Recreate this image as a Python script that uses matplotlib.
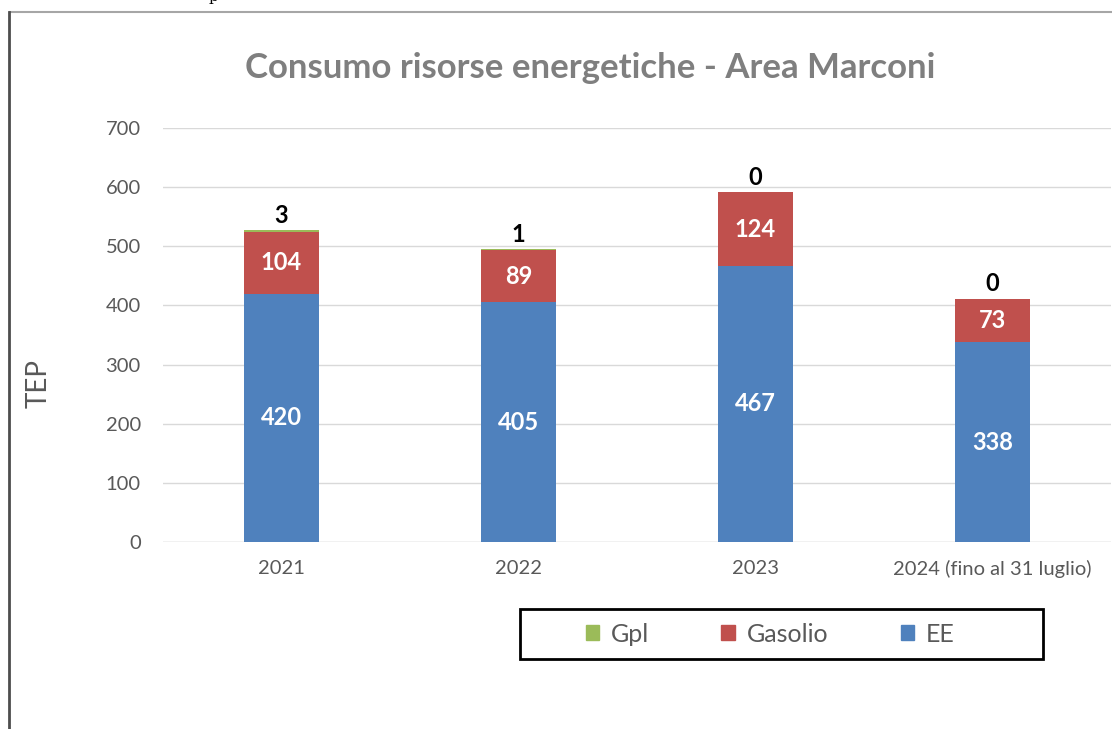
import matplotlib.pyplot as plt
from matplotlib.lines import Line2D
from matplotlib.patches import Patch, Rectangle
import numpy as np

# data
anni = ['2021', '2022', '2023', '2024 (fino al 31 luglio)']
ee = [420, 405, 467, 338]
gasolio = [104, 89, 124, 73]
gpl = [3, 1, 0, 0]

c_ee = '#4F81BD'
c_gas = '#C0504D'
c_gpl = '#9BBB59'
grigio = '#595959'

plt.rcParams['font.family'] = ['Lato', 'DejaVu Sans']

W, H = 1112, 729
fig = plt.figure(figsize=(W / 100, H / 100), dpi=100)
ax = fig.add_axes([163 / W, 1 - 542 / H, 948 / W, (542 - 128) / H])

x = np.arange(len(anni))
larg = 0.316
ee = np.array(ee)
gasolio = np.array(gasolio)
gpl = np.array(gpl)

ax.bar(x, ee, larg, color=c_ee, zorder=3)
ax.bar(x, gasolio, larg, bottom=ee, color=c_gas, zorder=3)
ax.bar(x, gpl, larg, bottom=ee + gasolio, color=c_gpl, zorder=3)

# etichette
for i in range(len(anni)):
    ax.text(x[i], ee[i] / 2, str(ee[i]), ha='center', va='center',
            color='white', fontsize=17, fontweight='bold', zorder=4)
    ax.text(x[i], ee[i] + gasolio[i] / 2, str(gasolio[i]), ha='center',
            va='center', color='white', fontsize=17, fontweight='bold', zorder=4)
    ax.text(x[i], ee[i] + gasolio[i] + gpl[i] + 6, str(gpl[i]), ha='center',
            va='bottom', color='black', fontsize=17, fontweight='bold', zorder=4)

ax.set_xlim(-0.5, 3.5)
ax.set_ylim(0, 700)
ax.set_yticks(range(0, 701, 100))
ax.set_xticks(x)
ax.set_xticklabels(anni)
ax.grid(axis='y', color='#D9D9D9', linewidth=1, zorder=0)
for s in ax.spines.values():
    s.set_visible(False)
ax.axhline(0, color='#D9D9D9', linewidth=1, zorder=1)
ax.tick_params(axis='both', length=0, labelsize=14.5, labelcolor=grigio)
ax.tick_params(axis='y', pad=16)
ax.tick_params(axis='x', pad=13)
ax.set_ylabel('TEP', fontsize=20, color=grigio)
ax.yaxis.set_label_coords((52 - 163) / 948, (542 - 383) / (542 - 128))

fig.text(590 / W, 1 - 68 / H, 'Consumo risorse energetiche - Area Marconi',
         ha='center', va='center', fontsize=25, fontweight='bold', color='#7F7F7F')

# legenda: cornice separata, voci senza frame
fig.add_artist(Rectangle((520 / W, 1 - 659 / H), 523 / W, 50 / H,
                         transform=fig.transFigure, facecolor='white',
                         edgecolor='black', linewidth=2))
handles = [Patch(color=c_gpl, label='Gpl'), Patch(color=c_gas, label='Gasolio'),
           Patch(color=c_ee, label='EE')]
leg = fig.legend(handles=handles, loc='center', ncol=3,
                 bbox_to_anchor=(770 / W, 1 - 634 / H), fontsize=18,
                 frameon=False, handlelength=0.55, handleheight=0.55,
                 columnspacing=2.9, handletextpad=0.45, borderpad=0,
                 borderaxespad=0)
for t in leg.get_texts():
    t.set_color(grigio)

# cornice
fig.add_artist(Line2D([10 / W, 1], [1 - 12 / H, 1 - 12 / H], color='#A6A6A6', linewidth=1.5))
fig.add_artist(Line2D([9 / W, 9 / W], [1 - 12 / H, 0], color='#4D4D4D', linewidth=2))
fig.text(213 / W, 1 - 1 / H, 'p', ha='center', va='baseline', fontsize=11,
         family='DejaVu Serif', color='black')

fig.savefig('out.png', dpi=100)
